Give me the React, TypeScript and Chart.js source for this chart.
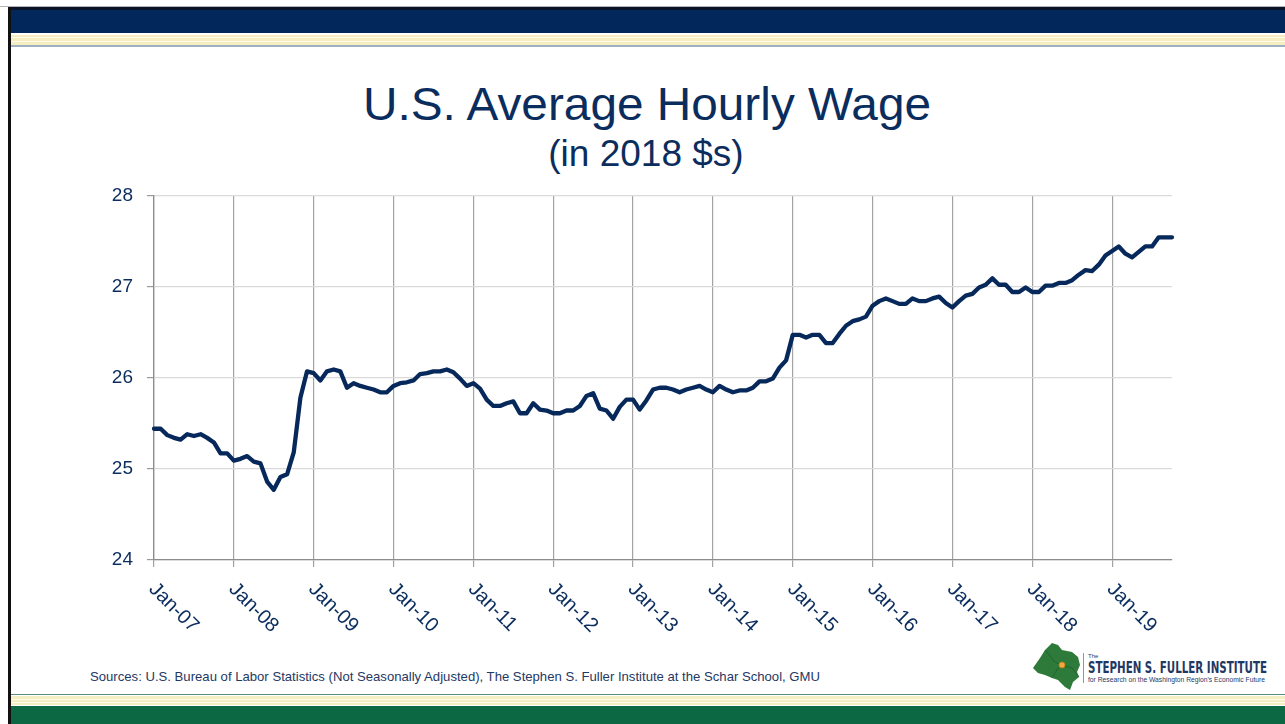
import React, { useEffect, useRef } from 'react';
import { Chart, registerables } from 'chart.js';

Chart.register(...registerables);

// ---- data (U.S. average hourly wage, 2018 $, monthly) ----
const wage2007 = [25.44, 25.44, 25.37, 25.34, 25.32, 25.38, 25.36, 25.38, 25.34, 25.29, 25.17, 25.17];
const wage2008 = [25.09, 25.11, 25.14, 25.08, 25.06, 24.86, 24.77, 24.91, 24.94, 25.18, 25.78, 26.07];
const wage2009 = [26.05, 25.97, 26.07, 26.09, 26.07, 25.89, 25.94, 25.91, 25.89, 25.87, 25.84, 25.84];
const wage2010 = [25.91, 25.94, 25.95, 25.97, 26.04, 26.05, 26.07, 26.07, 26.09, 26.06, 25.99, 25.91];
const wage2011 = [25.94, 25.88, 25.76, 25.69, 25.69, 25.72, 25.74, 25.61, 25.61, 25.72, 25.65, 25.64];
const wage2012 = [25.61, 25.61, 25.64, 25.64, 25.69, 25.80, 25.83, 25.66, 25.64, 25.55, 25.68, 25.76];
const wage2013 = [25.76, 25.65, 25.75, 25.87, 25.89, 25.89, 25.87, 25.84, 25.87, 25.89, 25.91, 25.87];
const wage2014 = [25.84, 25.91, 25.87, 25.84, 25.86, 25.86, 25.89, 25.96, 25.96, 25.99, 26.11, 26.19];
const wage2015 = [26.47, 26.47, 26.44, 26.47, 26.47, 26.38, 26.38, 26.48, 26.57, 26.62, 26.64, 26.67];
const wage2016 = [26.79, 26.84, 26.87, 26.84, 26.81, 26.81, 26.87, 26.84, 26.84, 26.87, 26.89, 26.82];
const wage2017 = [26.77, 26.84, 26.90, 26.92, 26.99, 27.02, 27.09, 27.02, 27.02, 26.94, 26.94, 26.99];
const wage2018 = [26.94, 26.94, 27.01, 27.01, 27.04, 27.04, 27.07, 27.13, 27.18, 27.17, 27.24, 27.34];
const wage2019 = [27.39, 27.44, 27.36, 27.32, 27.38, 27.44, 27.44, 27.54, 27.54, 27.54];

const monthNames = ['Jan', 'Feb', 'Mar', 'Apr', 'May', 'Jun', 'Jul', 'Aug', 'Sep', 'Oct', 'Nov', 'Dec'];
const yearCodes = ['07', '08', '09', '10', '11', '12', '13', '14', '15', '16', '17', '18', '19'];
const tickLabels = ['Jan-07', 'Jan-08', 'Jan-09', 'Jan-10', 'Jan-11', 'Jan-12', 'Jan-13', 'Jan-14', 'Jan-15', 'Jan-16', 'Jan-17', 'Jan-18', 'Jan-19'];
const yMin = 24;
const yMax = 28;
const yStep = 1;

const wages = [
  ...wage2007, ...wage2008, ...wage2009, ...wage2010, ...wage2011, ...wage2012, ...wage2013,
  ...wage2014, ...wage2015, ...wage2016, ...wage2017, ...wage2018, ...wage2019,
];
const categories = yearCodes.flatMap((y) => monthNames.map((m) => `${m}-${y}`)).slice(0, wages.length);

const NAVY = '#0b2d5e';
const FONT = '"Liberation Sans", Arial, Helvetica, sans-serif';

const xLabelPlugin = {
  id: 'rotatedXLabels',
  afterDraw(chart: any) {
    const ctx = chart.ctx;
    const xs = chart.scales.x;
    const y0 = chart.chartArea.bottom + 26;
    ctx.save();
    ctx.font = `20px ${FONT}`;
    ctx.fillStyle = NAVY;
    ctx.textAlign = 'left';
    ctx.textBaseline = 'middle';
    tickLabels.forEach((lab) => {
      const idx = categories.indexOf(lab);
      if (idx < 0) return;
      const x = xs.getPixelForValue(idx);
      ctx.save();
      ctx.translate(x - 2, y0);
      ctx.rotate(Math.PI / 4);
      ctx.fillText(lab, 0, 0);
      ctx.restore();
    });
    ctx.restore();
  },
};

const isJan = (i: number) => tickLabels.includes(categories[i]);

export default function App() {
  const canvasRef = useRef<HTMLCanvasElement | null>(null);

  useEffect(() => {
    if (!canvasRef.current) return;
    const chart = new Chart(canvasRef.current, {
      type: 'line',
      data: {
        labels: categories,
        datasets: [
          {
            label: 'U.S. Average Hourly Wage',
            data: wages,
            borderColor: '#06285a',
            borderWidth: 4.3,
            pointRadius: 0,
            pointHoverRadius: 0,
            tension: 0,
            borderJoinStyle: 'round',
            borderCapStyle: 'round',
            fill: false,
          },
        ],
      },
      options: {
        animation: false,
        responsive: false,
        maintainAspectRatio: false,
        devicePixelRatio: 1,
        layout: { padding: { left: 0, top: 24, right: 28, bottom: 0 } },
        plugins: {
          legend: { display: false },
          title: { display: false },
          tooltip: { enabled: false },
        },
        scales: {
          x: {
            type: 'category',
            offset: false,
            ticks: { display: false, autoSkip: false },
            grid: {
              drawOnChartArea: true,
              color: (c: any) => (isJan(c.index) ? '#a3a3a3' : 'rgba(0,0,0,0)'),
              tickColor: (c: any) => (isJan(c.index) ? '#a3a3a3' : 'rgba(0,0,0,0)'),
              tickLength: 7,
              lineWidth: 1.2,
            },
            border: { color: '#8c8c8c', width: 1.3 },
            afterFit: (s: any) => {
              s.height = 90;
            },
          },
          y: {
            min: yMin,
            max: yMax,
            ticks: {
              stepSize: yStep,
              color: NAVY,
              font: { family: FONT, size: 19 },
              padding: 14,
            },
            grid: { color: '#dadada', tickColor: '#9a9a9a', tickLength: 7, lineWidth: 1.2 },
            border: { color: '#8c8c8c', width: 1.3 },
            afterFit: (s: any) => {
              s.width = 64;
            },
          },
        },
      },
      plugins: [xLabelPlugin],
    } as any);
    return () => chart.destroy();
  }, []);

  return (
    <div
      style={{
        position: 'fixed',
        left: 0,
        top: 0,
        width: 1285,
        height: 724,
        background: '#ffffff',
        overflow: 'hidden',
      }}
    >
      <svg
        width={1285}
        height={724}
        style={{ position: 'absolute', left: 0, top: 0 }}
        xmlns="http://www.w3.org/2000/svg"
      >
        {/* top banner */}
        <rect x={0} y={6} width={1285} height={1} fill="#b5b5b5" />
        <rect x={8} y={7} width={1277} height={3} fill="#0a1428" />
        <rect x={8} y={10} width={1277} height={23} fill="#02285b" />
        <rect x={8} y={35} width={1277} height={10} fill="#f6eec3" />
        <rect x={8} y={37} width={1277} height={1} fill="#fffbe8" />
        <rect x={8} y={41} width={1277} height={1} fill="#fffbe8" />
        <rect x={8} y={45} width={1277} height={2} fill="#9fb0c2" />
        {/* left border */}
        <rect x={8} y={7} width={3} height={717} fill="#111111" />
        {/* bottom banner */}
        <rect x={11} y={694} width={1274} height={1} fill="#5b8c78" />
        <rect x={11} y={696} width={1274} height={9} fill="#f6eec3" />
        <rect x={11} y={699} width={1274} height={1} fill="#fffbe8" />
        <rect x={11} y={702} width={1274} height={1} fill="#fffbe8" />
        <rect x={11} y={706} width={1274} height={18} fill="#0b6842" />

        {/* titles */}
        <text x={647} y={120} textAnchor="middle" fontFamily={FONT} fontSize={47} fill={NAVY} textLength={568} lengthAdjust="spacingAndGlyphs">
          U.S. Average Hourly Wage
        </text>
        <text x={646} y={166} textAnchor="middle" fontFamily={FONT} fontSize={37} fill={NAVY}>
          (in 2018 $s)
        </text>

        {/* sources */}
        <text
          x={90}
          y={681}
          fontFamily={FONT}
          fontSize={13.5}
          fill="#1f3864"
          textLength={730}
          lengthAdjust="spacingAndGlyphs"
        >
          Sources: U.S. Bureau of Labor Statistics (Not Seasonally Adjusted), The Stephen S. Fuller Institute at the Schar School, GMU
        </text>

        {/* logo */}
        <polygon
          points="1033,668 1040,658 1045,650 1052,643 1058,645 1062,650 1072,652 1078,657 1080,665 1077,672 1079,677 1073,682 1070,690 1065,687 1058,680 1052,678 1045,675 1038,673"
          fill="#2e7a3a"
        />
        <polyline points="1045,650 1055,662 1062,665 1072,668 1079,677" fill="none" stroke="#1f5f2b" strokeWidth={0.8} />
        <polyline points="1052,678 1058,668 1062,665" fill="none" stroke="#1f5f2b" strokeWidth={0.8} />
        <circle cx={1062} cy={665} r={3} fill="#f2a93b" stroke="#c67d1a" strokeWidth={0.8} />
        <rect x={1083} y={653} width={1} height={30} fill="#8b97a6" />
        <text x={1088} y={658} fontFamily={FONT} fontSize={6} fill="#1f3864">
          The
        </text>
        <text
          x={1088}
          y={673}
          fontFamily={'"Liberation Sans Narrow", "DejaVu Sans Condensed", Arial, sans-serif'}
          fontWeight="bold"
          fontSize={15}
          fill="#1f3864"
          textLength={179}
          lengthAdjust="spacingAndGlyphs"
        >
          STEPHEN S. FULLER INSTITUTE
        </text>
        <text
          x={1088}
          y={682}
          fontFamily={'"Liberation Sans Narrow", Arial, sans-serif'}
          fontSize={7}
          fill="#1f3864"
          textLength={177}
          lengthAdjust="spacingAndGlyphs"
        >
          for Research on the Washington Region’s Economic Future
        </text>
      </svg>
      <canvas
        ref={canvasRef}
        width={1110}
        height={480}
        style={{ position: 'absolute', left: 90, top: 170, width: 1110, height: 480 }}
      />
    </div>
  );
}
